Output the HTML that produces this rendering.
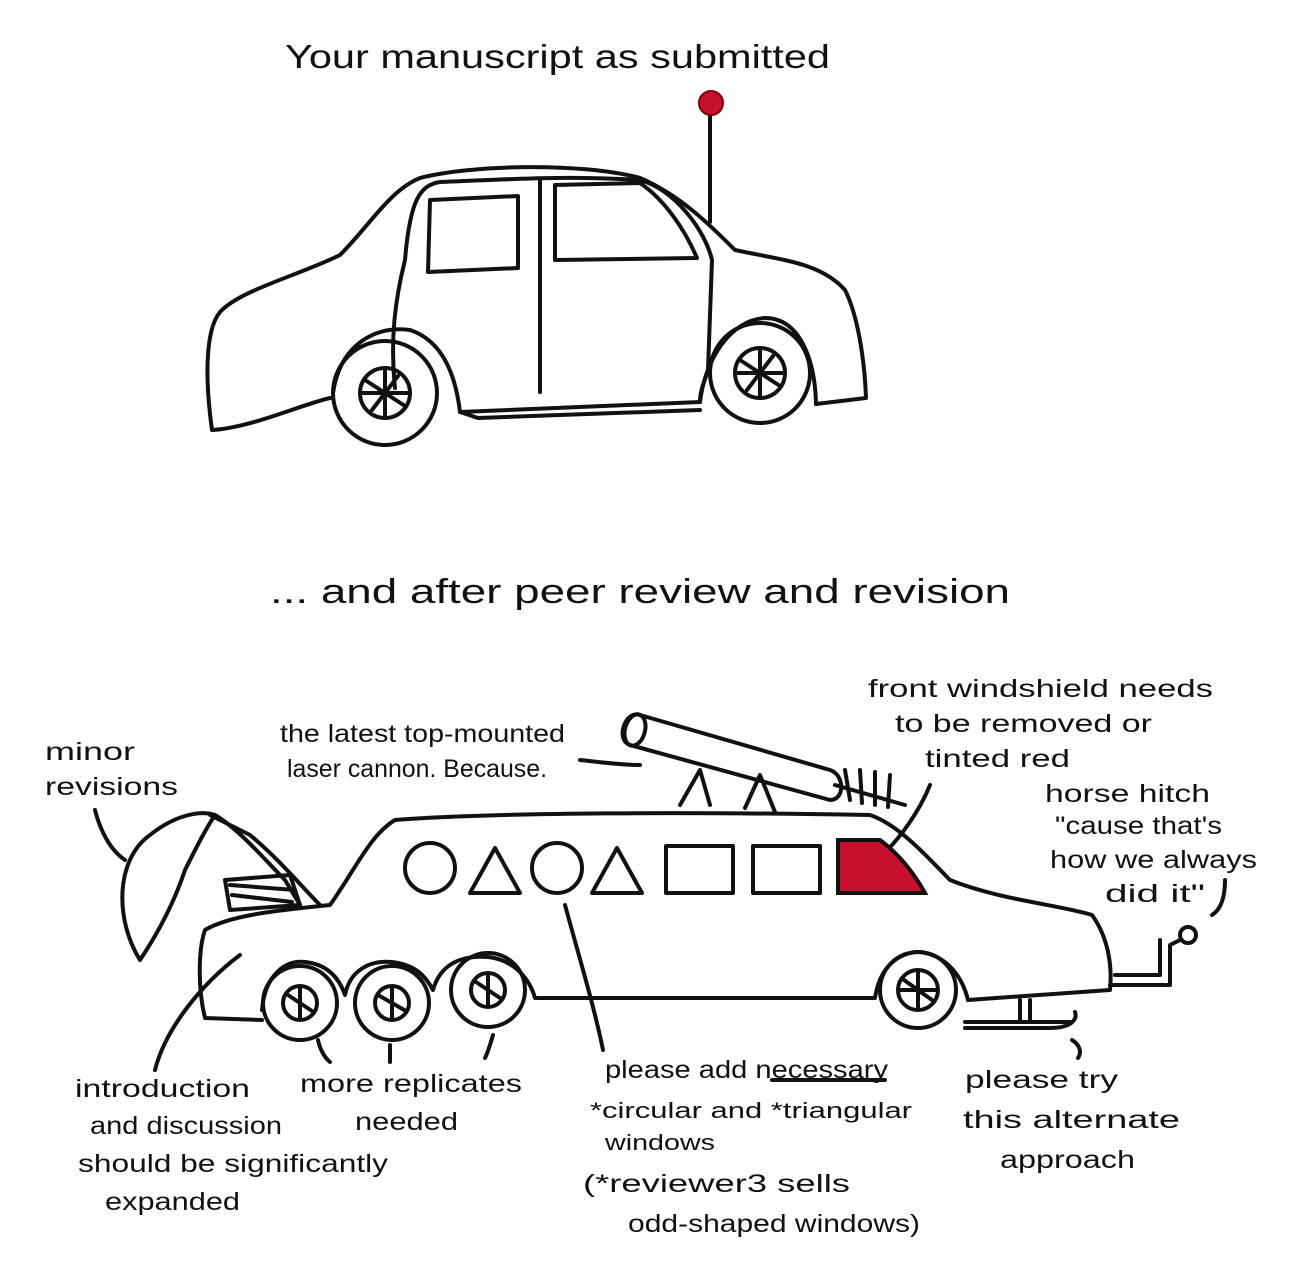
<!DOCTYPE html>
<html><head><meta charset="utf-8"><style>
html,body{margin:0;padding:0;background:#fff;}
svg{display:block}
text{font-family:"Liberation Sans",sans-serif;fill:#111;}
</style></head><body>
<svg width="1290" height="1269" viewBox="0 0 1290 1269" xmlns="http://www.w3.org/2000/svg">
<g fill="none" stroke="#111" stroke-width="4" stroke-linecap="round" stroke-linejoin="round">
<path d="M330,398 C300,405 250,428 212,430 C205,380 205,330 220,312 C240,290 300,275 340,255 C370,225 390,190 420,178 C470,165 580,162 640,178 C680,195 710,225 735,250 C780,260 820,262 845,290 C860,320 865,370 866,398 L816,404"/>
<path d="M333,393 C340,345 375,325 410,330 C440,340 455,370 460,412 L700,402 C705,360 730,320 765,318 C800,318 815,360 816,404"/>
<path d="M460,412 L478,418 L700,410"/>
<path d="M395,388 C390,340 395,300 405,260 C410,200 420,185 440,182 C500,180 560,175 640,180 C675,190 705,230 712,260 L708,370 C705,380 700,390 700,402"/>
<path d="M540,180 L540,392"/>
<path d="M430,200 L518,196 L518,268 L428,272 Z"/>
<path d="M555,185 L640,183 C665,200 685,230 697,258 L555,260 Z"/>
<circle cx="385" cy="393" r="52"/><circle cx="385" cy="393" r="25"/>
<path d="M365,380 L405,406 M372,410 L398,376 M385,368 L385,418 M360,393 L410,393"/>
<circle cx="760" cy="373" r="50"/><circle cx="760" cy="373" r="25"/>
<path d="M740,360 L780,386 M747,390 L773,356 M760,348 L760,398 M735,373 L785,373"/>
<path d="M710,222 L710,110"/>
<path d="M262,1020 L205,1018 C198,990 198,950 205,930 C230,915 280,910 330,905 C355,870 370,835 395,820 C500,812 700,812 870,815 C900,825 930,860 950,880 C1000,900 1060,905 1092,915 C1110,940 1112,970 1110,990 L968,1000"/>
<path d="M262,1010 C265,975 285,960 305,962 C325,964 338,975 345,995 C350,970 370,960 392,962 C415,965 425,975 433,990 C440,965 460,955 488,957 C515,960 530,980 535,998 L875,998 C880,965 900,952 920,952 C945,955 962,975 968,1000"/>
<circle cx="300" cy="1003" r="37"/><circle cx="300" cy="1003" r="17"/>
<circle cx="392" cy="1003" r="37"/><circle cx="392" cy="1003" r="17"/>
<circle cx="488" cy="990" r="37"/><circle cx="488" cy="990" r="17"/>
<circle cx="918" cy="990" r="38"/><circle cx="918" cy="990" r="20"/>
<path d="M288,995 L312,1011 M300,988 L300,1018 M378,995 L406,1011 M392,988 L392,1018 M476,982 L500,998 M488,975 L488,1005 M904,980 L932,1000 M918,972 L918,1008 M900,990 L936,990"/>
<circle cx="430" cy="868" r="25"/>
<path d="M470,893 L495,848 L520,893 Z"/>
<circle cx="557" cy="868" r="25"/>
<path d="M592,893 L617,848 L642,893 Z"/>
<rect x="666" y="846" width="67" height="47"/>
<rect x="753" y="846" width="67" height="47"/>
<path d="M140,960 C115,920 115,860 150,835 C175,815 200,810 215,815 C240,830 265,860 285,880 L300,905 M210,815 L250,835 C280,860 300,885 320,905"/>
<path d="M140,960 C160,930 175,900 185,870 M185,870 C195,850 205,830 215,815"/>
<path d="M225,880 L290,875 L300,905 L230,910 Z M230,885 L295,890 M232,895 L292,902"/>
<path d="M640,715 L830,770 C845,775 845,800 830,800 L630,745 C615,740 625,710 640,715 Z"/>
<ellipse cx="635" cy="730" rx="10" ry="16" transform="rotate(15 635 730)"/>
<path d="M835,785 L905,805 M845,770 L850,800 M860,770 L862,803 M875,772 L875,805 M890,775 L888,807"/>
<path d="M680,805 L700,770 L710,805 M745,808 L760,775 L775,812"/>
<path d="M1110,985 L1170,985 L1170,945 L1180,940 M1115,975 L1160,975 L1160,940"/>
<circle cx="1188" cy="935" r="8"/>
<path d="M1020,1000 L1020,1022 M1030,1000 L1030,1022 M965,1022 L1070,1022 M965,1028 L1050,1028 C1070,1028 1078,1020 1075,1012"/>
<path d="M95,810 C100,830 110,850 125,860"/>
<path d="M240,955 C200,985 165,1030 155,1070"/>
<path d="M565,905 C580,960 595,1010 603,1050"/>
<path d="M580,760 C600,762 620,765 640,765"/>
<path d="M930,785 C920,810 900,840 875,862"/>
<path d="M1225,880 C1225,900 1220,910 1212,915"/>
<path d="M1072,1040 C1080,1045 1082,1052 1078,1058"/>
<path d="M318,1040 C320,1050 325,1058 330,1062 M390,1045 L390,1062 M493,1035 C490,1045 488,1052 485,1058"/>
<path d="M772,1080 L885,1080"/>
</g>
<circle cx="711" cy="103" r="12" fill="#c8102e" stroke="#700" stroke-width="2"/>
<path d="M838,840 L880,840 C900,855 915,875 925,893 L838,893 Z" fill="#c8102e" stroke="#111" stroke-width="4"/>
<g font-size="25" lengthAdjust="spacingAndGlyphs">
<text x="285" y="68" font-size="33" textLength="545" lengthAdjust="spacingAndGlyphs">Your manuscript as submitted</text>
<text x="270" y="603" font-size="34" textLength="740" lengthAdjust="spacingAndGlyphs">... and after peer review and revision</text>
<text x="45" y="760" textLength="90" lengthAdjust="spacingAndGlyphs">minor</text>
<text x="45" y="795" textLength="133" lengthAdjust="spacingAndGlyphs">revisions</text>
<text x="280" y="742" textLength="285" lengthAdjust="spacingAndGlyphs">the latest top-mounted</text>
<text x="287" y="777" textLength="260" lengthAdjust="spacingAndGlyphs">laser cannon. Because.</text>
<text x="868" y="697" textLength="345" lengthAdjust="spacingAndGlyphs">front windshield needs</text>
<text x="895" y="732" textLength="257" lengthAdjust="spacingAndGlyphs">to be removed or</text>
<text x="925" y="767" textLength="145" lengthAdjust="spacingAndGlyphs">tinted red</text>
<text x="1045" y="802" textLength="165" lengthAdjust="spacingAndGlyphs">horse hitch</text>
<text x="1055" y="834" textLength="167" lengthAdjust="spacingAndGlyphs">"cause that's</text>
<text x="1050" y="868" textLength="207" lengthAdjust="spacingAndGlyphs">how we always</text>
<text x="1105" y="902" textLength="100" lengthAdjust="spacingAndGlyphs">did it"</text>
<text x="75" y="1097" textLength="175" lengthAdjust="spacingAndGlyphs">introduction</text>
<text x="90" y="1134" textLength="192" lengthAdjust="spacingAndGlyphs">and discussion</text>
<text x="78" y="1172" textLength="310" lengthAdjust="spacingAndGlyphs">should be significantly</text>
<text x="105" y="1210" textLength="135" lengthAdjust="spacingAndGlyphs">expanded</text>
<text x="300" y="1092" textLength="222" lengthAdjust="spacingAndGlyphs">more replicates</text>
<text x="355" y="1130" textLength="103" lengthAdjust="spacingAndGlyphs">needed</text>
<text x="605" y="1078" textLength="283" lengthAdjust="spacingAndGlyphs">please add necessary</text>
<text x="590" y="1118" font-size="22" textLength="322" lengthAdjust="spacingAndGlyphs">*circular and *triangular</text>
<text x="605" y="1150" font-size="22" textLength="110" lengthAdjust="spacingAndGlyphs">windows</text>
<text x="583" y="1192" textLength="267" lengthAdjust="spacingAndGlyphs">(*reviewer3 sells</text>
<text x="628" y="1232" textLength="292" lengthAdjust="spacingAndGlyphs">odd-shaped windows)</text>
<text x="965" y="1088" textLength="153" lengthAdjust="spacingAndGlyphs">please try</text>
<text x="963" y="1128" textLength="217" lengthAdjust="spacingAndGlyphs">this alternate</text>
<text x="1000" y="1168" textLength="135" lengthAdjust="spacingAndGlyphs">approach</text>
</g>
</svg>
</body></html>
